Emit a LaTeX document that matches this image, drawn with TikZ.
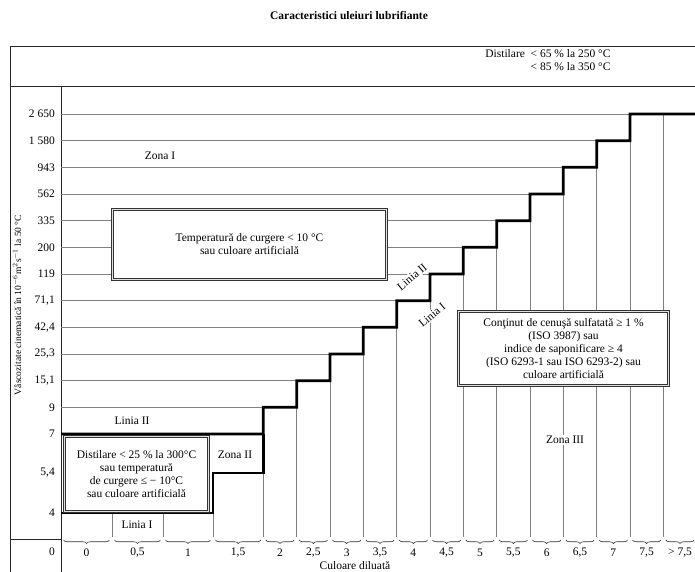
\documentclass[tikz,border=0pt]{standalone}
\usepackage{fontspec}
\setmainfont{Liberation Serif}
\usetikzlibrary{decorations.pathreplacing}

\begin{document}
\begin{tikzpicture}
%defines
  [x=1pt,y=-1pt,
grid/.style={draw=black!50,line width=0.6pt},
frame/.style={draw=black!85,line width=0.8pt},
linia/.style={draw=black,line width=2.8pt},
dbox/.style={draw=black!80,double=black!12,double distance=1.6pt,line width=0.5pt,
fill=white,inner sep=0pt,align=center},
tag/.style={fill=white,inner sep=1pt},
ylab/.style={anchor=east,inner sep=0pt},
colbrace/.style={decorate,decoration={brace,amplitude=3.5pt,mirror},draw=black!80,line width=0.6pt},
font=\fontsize{11.5}{13}\selectfont]
\useasboundingbox (0,0) rectangle (695,572);
% title and frame
\node (title) at (349,16) {\bfseries Caracteristici uleiuri lubrifiante};
\draw[frame] (10,46) -- (695,46) (10,86) -- (695,86) (10,46) -- (10,572)
(61,86) -- (61,572) (10,539) -- (61,539);
\node[anchor=east] (dist top) at (614,54) {Distilare \ < 65 \% la 250 °C};
\node[anchor=east] (dist bottom) at (614,67) {< 85 \% la 350 °C};
% grid
\foreach \j in {1,...,12}
\draw[grid] (61,{434-26.667*\j}) -- ({263.333+33.333*(\j-1)},{434-26.667*\j});
\foreach \i in {0,...,12}
\draw[grid] ({263.333+33.333*\i},537) -- ({263.333+33.333*\i},{434-26.667*\i});
\foreach \x in {112,163,213}
\draw[grid] (\x,537) -- (\x,513);
% lines I and II
\draw[linia] (61,434) \foreach \i in {0,...,11}{
-- ({263.333+33.333*\i},{434-26.667*\i}) -- ({263.333+33.333*\i},{434-26.667*(\i+1)})}
-- (695,114);
\draw[linia] (61,513) -- (213,513) -- (213,473) -- (263.333,473) -- (263.333,434);
% axis values
\foreach \v/\j in {{2 650}/12,{1 580}/11,943/10,562/9,335/8,200/7,119/6,
{71,1}/5,{42,4}/4,{25,3}/3,{15,1}/2,9/1,7/0}
\node[ylab] (y\j) at (55,{434-26.667*\j}) {\v};
\node[ylab] (y54) at (55,473) {5,4};
\node[ylab] (y4) at (55,513) {4};
\node[ylab] (y0) at (55,552) {0};
\node[rotate=90,font=\fontsize{9.5}{11}\selectfont] (ytitle) at (17,305)
{Vâscozitate cinematică în 10$^{-6}$m$^{2}$s$^{-1}$ la 50 °C};
% colour classes
\foreach \a/\b/\t in {61/112/0,112/163/{0,5},163/213/1,213/263.333/{1,5},
263.333/296.667/2,296.667/330/{2,5},330/363.333/3,363.333/396.667/{3,5},
396.667/430/4,430/463.333/{4,5},463.333/496.667/5,496.667/530/{5,5},
530/563.333/6,563.333/596.667/{6,5},596.667/630/7,630/663.333/{7,5},663.333/696.667/{> 7,5}}{
\draw[colbrace] (\a+2.5,540) -- (\b-2.5,540);
\node[inner sep=0pt] at ({(\a+\b)/2},553) {\t};
}
\node (culoare) at (355,566) {Culoare diluată};
% zones and boxes
\node (zona one) at (160,156) {Zona I};
\node[dbox,minimum width=274pt,minimum height=70pt] (box temp) at (249.5,244.5)
{Temperatură de curgere < 10 °C\\sau culoare artificială};
\node[tag,rotate=40] (linia two up) at (412,277) {Linia II};
\node[tag,rotate=40] (linia one up) at (432,315) {Linia I};
\node[dbox,minimum width=210pt,minimum height=74pt] (box ash) at (563.5,348.5)
{Conţinut de cenuşă sulfatată ≥ 1 \%\\(ISO 3987) sau\\indice de saponificare ≥ 4\\
(ISO 6293-1 sau ISO 6293-2) sau\\culoare artificială};
\node[tag] (zona three) at (565,440) {Zona III};
\node (linia two) at (132,421) {Linia II};
\node[dbox,minimum width=144pt,minimum height=75pt] (box dist) at (136.5,474)
{Distilare < 25 \% la 300°C\\sau temperatură\\de curgere ≤ − 10°C\\sau culoare artificială};
\node (zona two) at (235,455) {Zona II};
\node (linia one) at (137,525) {Linia I};
\end{tikzpicture}
\end{document}
